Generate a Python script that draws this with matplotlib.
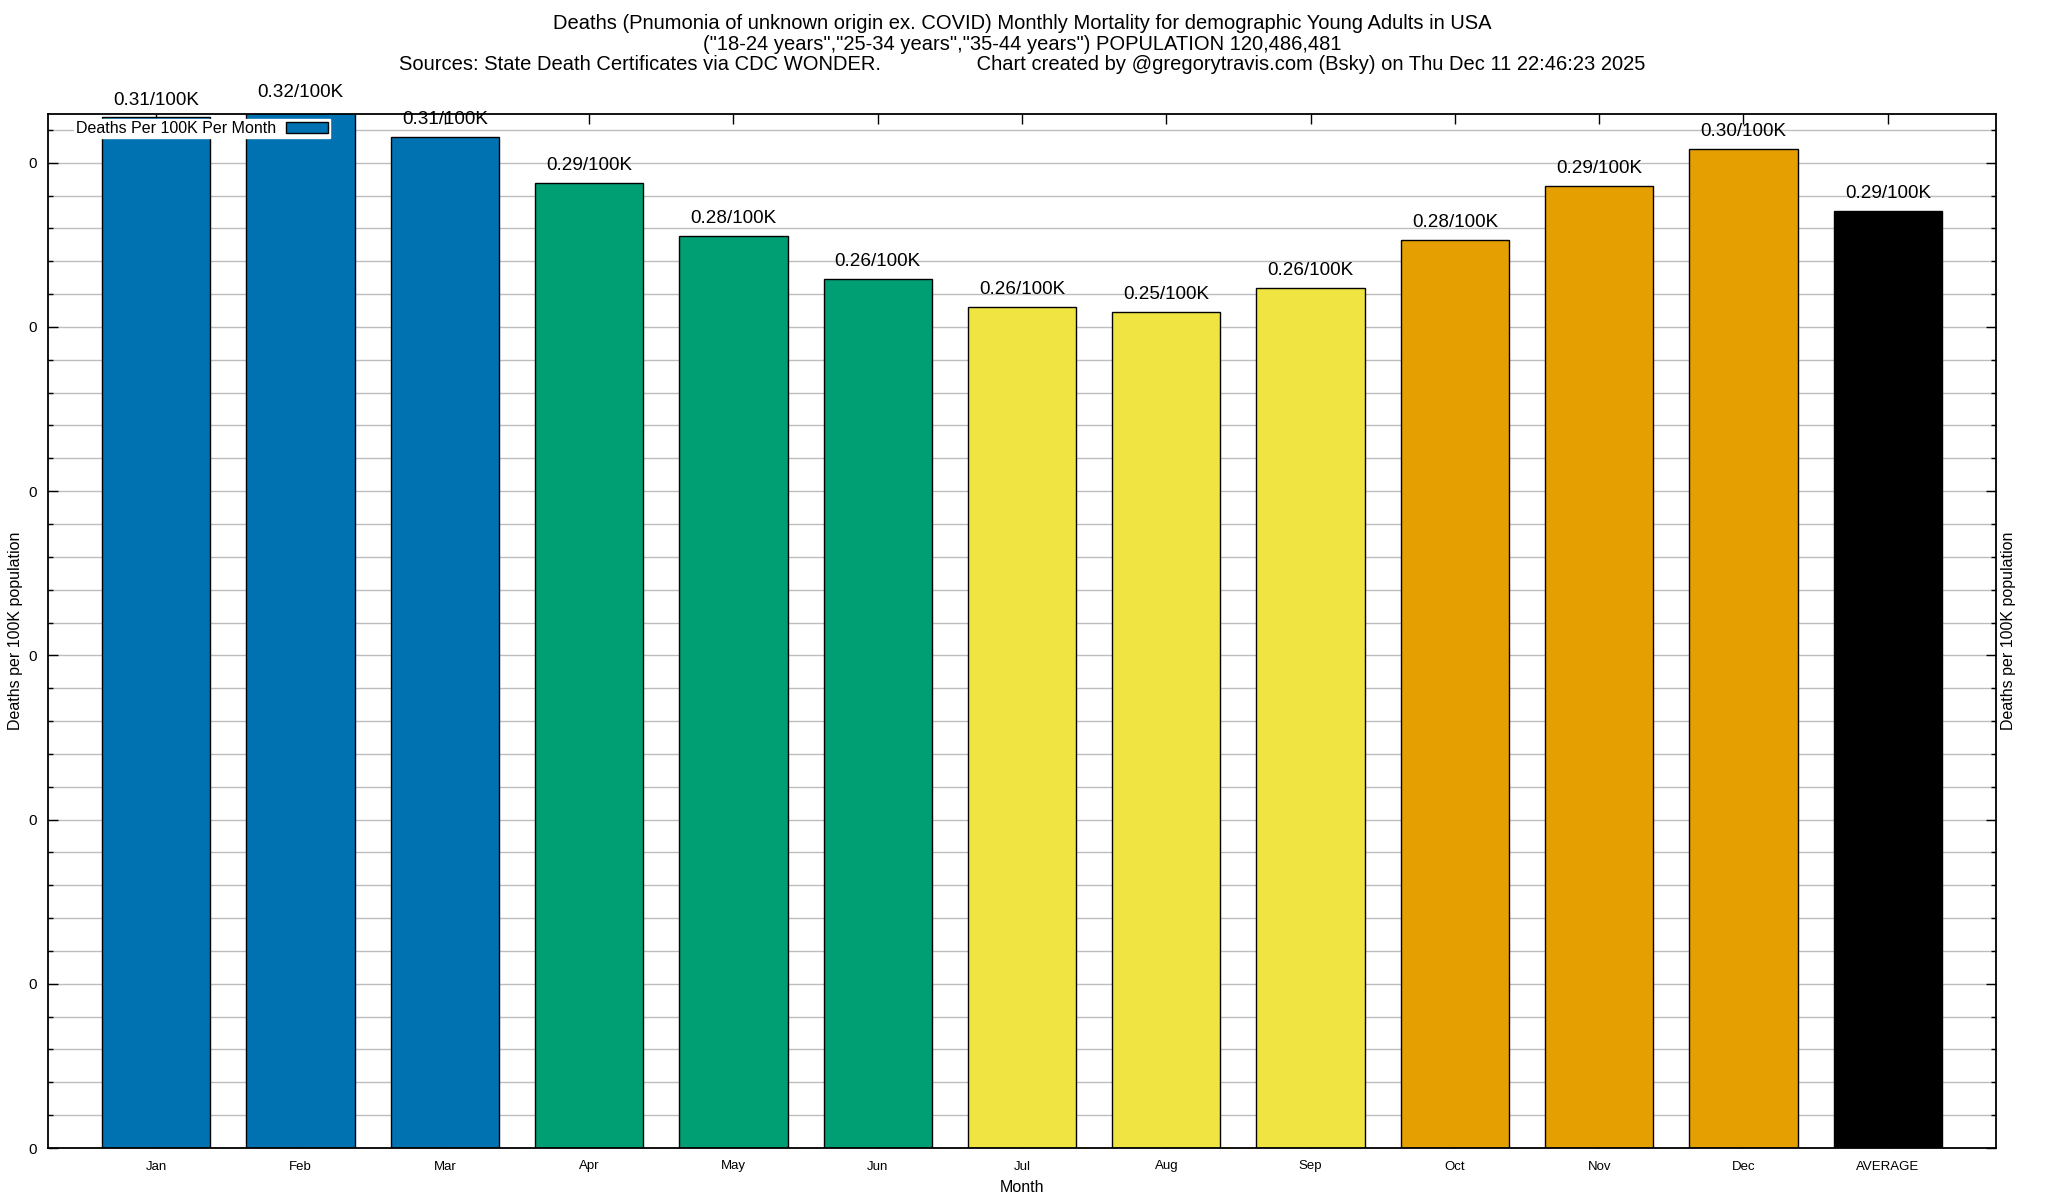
import matplotlib
matplotlib.use("Agg")
import matplotlib.pyplot as plt
from matplotlib.ticker import MultipleLocator, FormatStrFormatter
from matplotlib.patches import Patch

months = ["Jan", "Feb", "Mar", "Apr", "May", "Jun", "Jul", "Aug", "Sep",
          "Oct", "Nov", "Dec", "AVERAGE"]
rates = [0.3138, 0.3160, 0.3079, 0.2939, 0.2778, 0.2647, 0.2561, 0.2547,
         0.2619, 0.2766, 0.2930, 0.3042, 0.2853]
bar_colors = ["#0072B2", "#0072B2", "#0072B2", "#009E73", "#009E73", "#009E73",
              "#F0E442", "#F0E442", "#F0E442", "#E69F00", "#E69F00", "#E69F00",
              "#000000"]

title_lines = [
    "Deaths (Pnumonia of unknown origin ex. COVID) Monthly Mortality for demographic Young Adults in USA",
    "(\"18-24 years\",\"25-34 years\",\"35-44 years\") POPULATION 120,486,481",
    "Sources: State Death Certificates via CDC WONDER." + " " * 17 +
    "Chart created by @gregorytravis.com (Bsky) on Thu Dec 11 22:46:23 2025",
]
legend_label = "Deaths Per 100K Per Month"
ylabel = "Deaths per 100K population"

plt.rcParams['font.family'] = ['Liberation Sans', 'DejaVu Sans']

W, H = 2048, 1200
fig = plt.figure(figsize=(W / 100, H / 100), dpi=100)
L, R, T, B = 48, 1996, 113.5, 1148
ax = fig.add_axes([L / W, 1 - B / H, (R - L) / W, (B - T) / H])

x = list(range(len(months)))
ax.bar(x, rates, width=0.75, color=bar_colors, edgecolor="black",
       linewidth=1.0, zorder=2)
for xi, v in zip(x, rates):
    ax.annotate(f"{v:.2f}/100K", (xi, v), xytext=(0, 12.5),
                textcoords="offset points", ha="center", va="center",
                fontsize=13.6, clip_on=False, annotation_clip=False, zorder=6)

ax.set_xlim(-0.75, len(months) - 0.25)
ax.set_ylim(0, 0.315)
ax.set_xticks(x)
ax.set_xticklabels(months, fontsize=9.5)
ax.yaxis.set_major_locator(MultipleLocator(0.05))
ax.yaxis.set_minor_locator(MultipleLocator(0.01))
ax.yaxis.set_major_formatter(FormatStrFormatter("%.0f"))
ax.tick_params(axis="y", which="major", direction="in", length=7, width=1,
               labelsize=11, pad=8, left=True, right=True)
ax.tick_params(axis="y", which="minor", direction="in", length=3.5, width=1,
               left=True, right=True)
ax.tick_params(axis="x", direction="in", length=7, width=1, top=True,
               bottom=True, pad=9)
ax.set_axisbelow(True)
ax.grid(axis="y", which="both", color="#bdbdbd", linewidth=1.0)
for s in ax.spines.values():
    s.set_linewidth(1.3)
    s.set_zorder(3)

handle = Patch(facecolor="#0072B2", edgecolor="black", linewidth=1.0)
leg = ax.legend([handle], [legend_label], loc="upper left",
                bbox_to_anchor=(0.0134, 0.995), borderaxespad=0,
                markerfirst=False, fontsize=11.5, frameon=True, fancybox=False,
                handlelength=2.6, handleheight=0.6, handletextpad=0.6,
                borderpad=0.15)
leg.get_frame().set_facecolor("white")
leg.get_frame().set_edgecolor("white")
leg.get_frame().set_alpha(1.0)
leg.set_zorder(7)

cx = (L + R) / 2 / W
for i, line in enumerate(title_lines):
    fig.text(cx, 1 - [23.5, 44.4, 64][i] / H, line, ha="center", va="center",
             fontsize=14.5)

fig.text(cx, 1 - 1188 / H, "Month", ha="center", va="center", fontsize=11.5)
fig.text(15.7 / W, 1 - 631 / H, ylabel, rotation=90, ha="center",
         va="center", fontsize=11.5)
fig.text(2009 / W, 1 - 631 / H, ylabel, rotation=90, ha="center",
         va="center", fontsize=11.5)

fig.savefig("out.png", dpi=100, facecolor="white")
